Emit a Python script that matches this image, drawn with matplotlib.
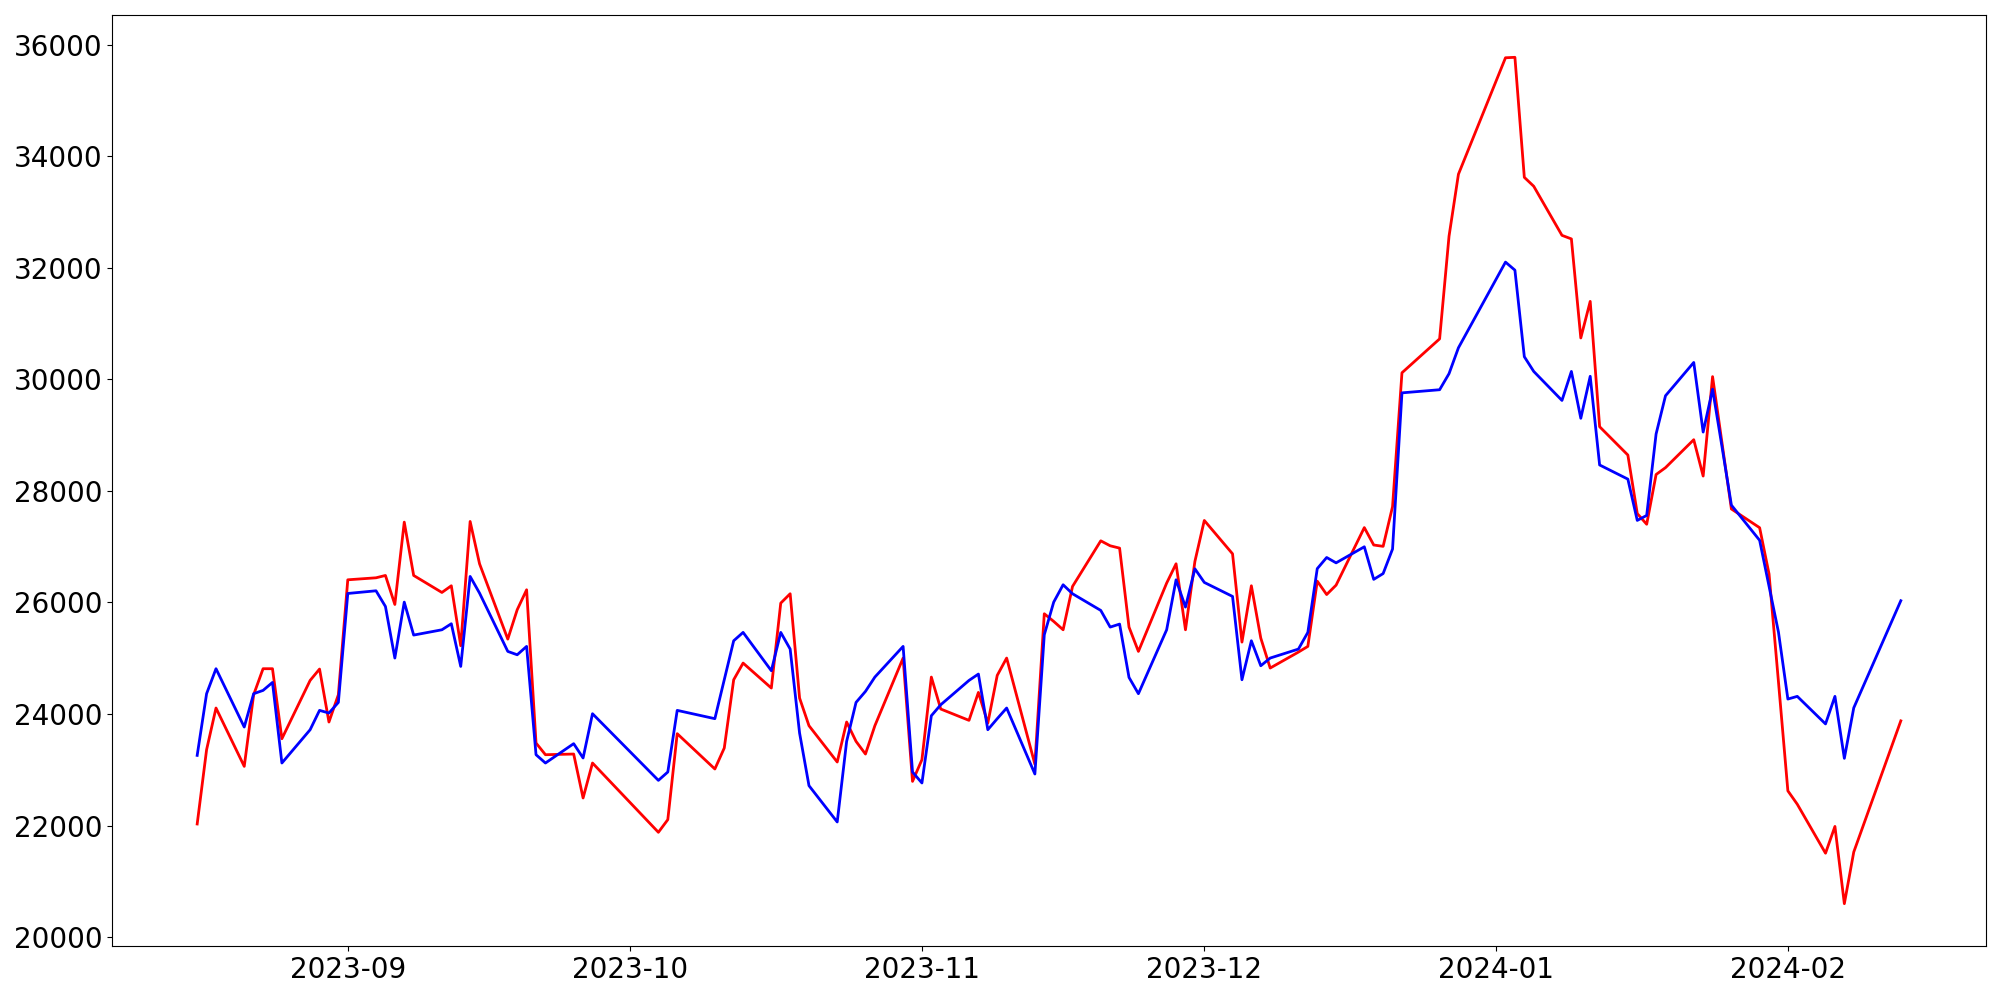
import pandas as pd
import matplotlib
matplotlib.use('Agg')
import matplotlib.pyplot as plt
import matplotlib.dates as mdates

# торговые дни (биржевые выходные исключены)
start_date = '2023-08-16'
end_date = '2024-02-13'
market_holidays = ['2023-09-28', '2023-09-29', '2023-10-02', '2023-10-03', '2023-10-09',
                   '2023-12-25', '2023-12-29', '2024-01-01', '2024-02-09', '2024-02-12']

red_values = [
    # Aug
    22028, 23360, 24107, 23061, 24346, 24812, 24812, 23557, 24602, 24806, 23856, 24346,
    # Sep
    26406, 26442, 26484, 25964, 27440, 26484, 26179, 26299, 25224, 27452, 26693, 25343,
    25869, 26227, 23480, 23270, 23282, 22494, 23121,
    # Oct
    21879, 22106, 23647, 23014, 23390, 24614, 24913, 24465, 25988, 26156, 24286, 23790,
    23139, 23856, 23509, 23282, 23790, 25003, 22792,
    # Nov
    23181, 24662, 24089, 23886, 24387, 23838, 24692, 25003, 23100, 25797, 25660, 25510,
    26287, 27105, 27016, 26974, 25558, 25122, 26347, 26693, 25510, 26735,
    # Dec
    27470, 26872, 25289, 26299, 25361, 24824, 25110, 25212, 26382, 26142, 26310, 27342,
    27030, 27006, 27718, 30118, 30726, 32566, 33678,
    # Jan
    35766, 35774, 33622, 33462, 32582, 32518, 30742, 31398, 29151, 28643, 27594, 27402,
    28294, 28417, 28918, 28266, 30049, 28863, 27676, 27340, 26511, 24577,
    # Feb
    22622, 22382, 21504, 21984, 20599, 21525, 23877,
]

blue_values = [
    # Aug
    23258, 24364, 24812, 23766, 24364, 24423, 24566, 23121, 23718, 24065, 24017, 24208,
    # Sep
    26161, 26209, 25928, 25003, 26006, 25415, 25510, 25618, 24853, 26466, 26167, 25122,
    25062, 25212, 23270, 23121, 23468, 23211, 24005,
    # Oct
    22810, 22960, 24065, 23916, 24615, 25313, 25463, 24776, 25463, 25164, 23659, 22715,
    22064, 23509, 24208, 24405, 24662, 25212, 22960,
    # Nov
    22763, 23969, 24166, 24602, 24716, 23718, 23916, 24107, 22924, 25421, 26006, 26317,
    26156, 25857, 25558, 25612, 24656, 24364, 25510, 26406, 25917, 26603,
    # Dec
    26359, 26108, 24614, 25313, 24865, 25003, 25164, 25463, 26606, 26806, 26710, 26998,
    26414, 26518, 26958, 29758, 29814, 30102, 30566,
    # Jan
    32102, 31958, 30406, 30142, 29622, 30142, 29302, 30055, 28465, 28211, 27471, 27560,
    29021, 29706, 30303, 29055, 29823, 28794, 27745, 27114, 26290, 25468,
    # Feb
    24268, 24316, 23822, 24316, 23205, 24110, 26031,
]

dates = pd.bdate_range(start_date, end_date, freq='C', holidays=market_holidays)
print(len(dates), len(red_values), len(blue_values))

fig = plt.figure(figsize=(20, 10), dpi=100)
ax = fig.add_axes([0.056, 0.054, 0.937, 0.931])
ax.plot(dates, red_values, color='red', linewidth=2)
ax.plot(dates, blue_values, color='blue', linewidth=2)

ax.xaxis.set_major_locator(mdates.MonthLocator())
ax.xaxis.set_major_formatter(mdates.DateFormatter('%Y-%m'))
ax.tick_params(axis='both', labelsize=20)

fig.savefig('out.png', dpi=100)
